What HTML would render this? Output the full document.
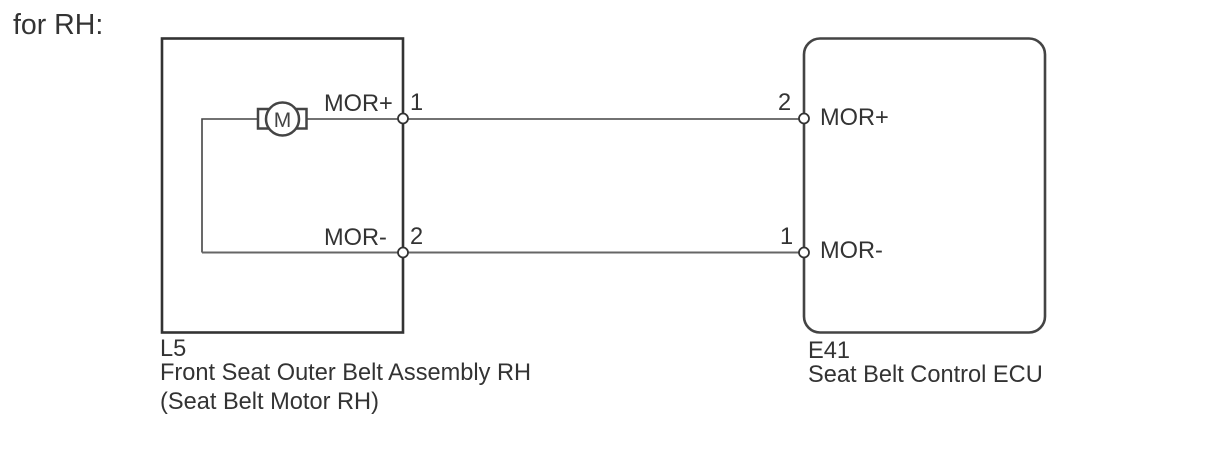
<!DOCTYPE html>
<html>
<head>
<meta charset="utf-8">
<style>
html,body{margin:0;padding:0;background:#fff;width:1210px;height:474px;overflow:hidden}
svg{display:block}
text{font-family:"Liberation Sans",sans-serif;font-size:23.6px;fill:#333}
</style>
</head>
<body>
<svg width="1210" height="474" viewBox="0 0 1210 474" xmlns="http://www.w3.org/2000/svg">
<rect width="1210" height="474" fill="#fff"/>
<rect x="162" y="38.500" width="241" height="294" fill="none" stroke="#333" stroke-width="2.600"/>
<rect x="804" y="38.500" width="241" height="294" rx="16" ry="16" fill="none" stroke="#444" stroke-width="2.600"/>
<path d="M202 252.500V119H258M307 119H403H804" fill="none" stroke="#444" stroke-width="1.600"/>
<path d="M202 252.500H804" fill="none" stroke="#666" stroke-width="2"/>
<rect x="258" y="109" width="18" height="19.500" fill="#fff" stroke="#444" stroke-width="2.500"/>
<rect x="288.500" y="109" width="18" height="19.500" fill="#fff" stroke="#444" stroke-width="2.500"/>
<circle cx="282.500" cy="119" r="16.500" fill="#fff" stroke="#444" stroke-width="2.500"/>
<text x="282.500" y="127" text-anchor="middle" style="font-size:21px;fill:#444">M</text>
<circle cx="403" cy="118.500" r="5" fill="#fff" stroke="#333" stroke-width="1.800"/>
<circle cx="403" cy="252.500" r="5" fill="#fff" stroke="#333" stroke-width="1.800"/>
<circle cx="804" cy="118.500" r="5" fill="#fff" stroke="#333" stroke-width="1.800"/>
<circle cx="804" cy="252.500" r="5" fill="#fff" stroke="#333" stroke-width="1.800"/>
<text x="13" y="34" style="font-size:28.500px">for RH:</text>
<text x="324" y="111">MOR+</text>
<text x="410" y="110">1</text>
<text x="324" y="245">MOR-</text>
<text x="410" y="244">2</text>
<text x="778" y="110">2</text>
<text x="820" y="125">MOR+</text>
<text x="780" y="244">1</text>
<text x="820" y="258">MOR-</text>
<text x="160" y="356">L5</text>
<text x="160" y="380">Front Seat Outer Belt Assembly RH</text>
<text x="160" y="409">(Seat Belt Motor RH)</text>
<text x="808" y="358">E41</text>
<text x="808" y="382">Seat Belt Control ECU</text>
</svg>
</body>
</html>
